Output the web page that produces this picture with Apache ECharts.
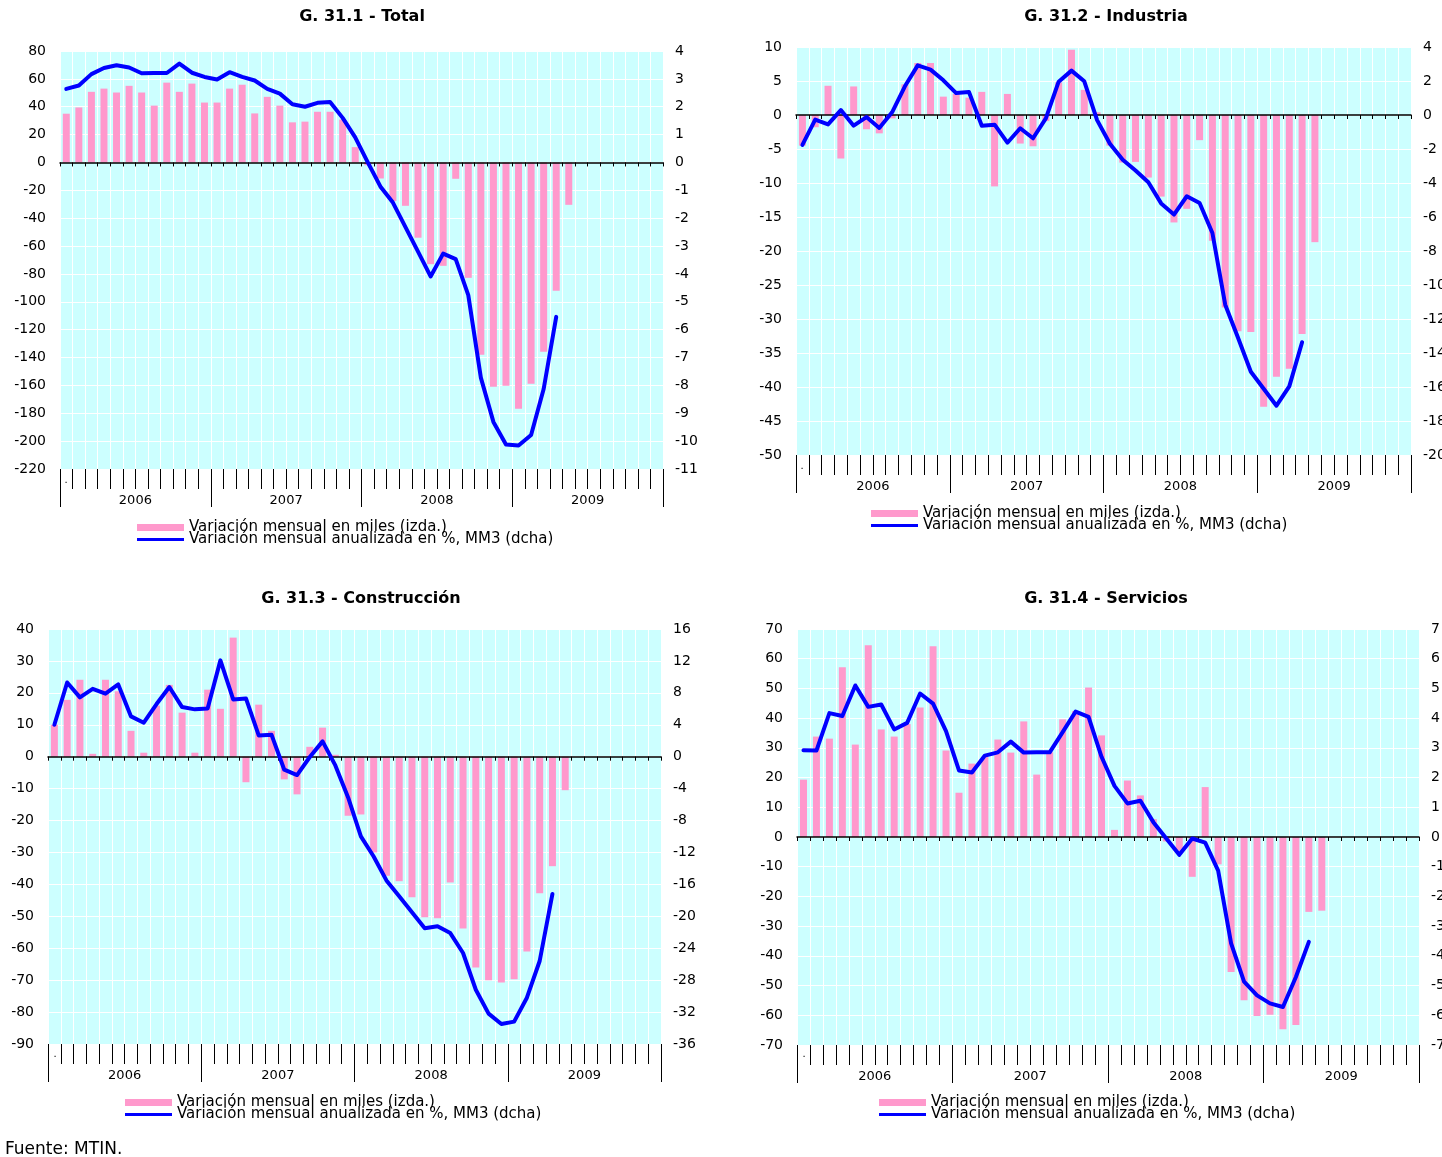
<!DOCTYPE html>
<html lang="es">
<head>
    <meta charset="utf-8">
    <script type="text/javascript" src="https://cdn.jsdelivr.net/npm/echarts@6/dist/echarts.min.js"></script>
</head>
<body style="margin: 0; background: #ffffff">
    <div id="container" style="width: 1442px; height: 1157px"></div>
    <script type="text/javascript">
        // eje temporal: ene-2006 .. dic-2009
        var years = ['2006', '2007', '2008', '2009'];
        var monthNames = ['ene', 'feb', 'mar', 'abr', 'may', 'jun', 'jul', 'ago', 'sep', 'oct', 'nov', 'dic'];
        var months = [];
        years.forEach(function (y) {
            monthNames.forEach(function (m) { months.push(m + '-' + y); });
        });

        var barName = 'Variación mensual en miles (izda.)';
        var lineName = 'Variación mensual anualizada en %, MM3 (dcha)';

        // G. 31.1 - Total
        var totalBars = [35, 39.5, 50.7, 53, 50.2, 55, 50.2, 40.8, 57.3, 50.7, 56.6, 43, 43, 53, 55.8, 35.2, 47.1, 40.8, 28.8, 29.3, 36.4, 36.4, 30.8, 11,
            -2, -11.5, -27.7, -31.1, -54, -73, -74.2, -11.7, -82.8, -138, -161, -160.3, -176.8, -158.8, -135.9, -92.1, -30.4];
        var totalLine = [2.64, 2.76, 3.17, 3.39, 3.49, 3.41, 3.2, 3.21, 3.21, 3.55, 3.22, 3.07, 2.98, 3.24, 3.07, 2.94, 2.64, 2.47, 2.09, 2.0, 2.14, 2.17, 1.6, 0.9,
            0.0, -0.86, -1.44, -2.32, -3.2, -4.09, -3.27, -3.47, -4.76, -7.72, -9.31, -10.12, -10.16, -9.78, -8.13, -5.54];

        // G. 31.2 - Industria
        var industriaBars = [-4.5, -1.8, 4.3, -6.4, 4.2, -2.1, -2.7, -0.5, 4.5, 7.65, 7.65, 2.7, 3.1, 2.55, 3.4, -10.5, 3.1, -4.2, -4.6, -0.9, 4.8, 9.6, 3.7, 0.4,
            -4.5, -7.0, -6.9, -9.2, -12.0, -15.8, -13.8, -3.7, -18.5, -28.3, -31.8, -31.9, -42.9, -38.5, -37.3, -32.2, -18.7];
        var industriaLine = [-1.76, -0.27, -0.55, 0.29, -0.63, -0.12, -0.76, 0.16, 1.69, 2.92, 2.67, 2.04, 1.29, 1.35, -0.63, -0.57, -1.63, -0.78, -1.37, -0.2, 1.96, 2.61, 1.98, -0.3,
            -1.69, -2.63, -3.27, -3.96, -5.2, -5.86, -4.78, -5.18, -6.94, -11.16, -13.1, -15.1, -16.1, -17.1, -15.96, -13.37];

        // G. 31.3 - Construcción
        var construccionBars = [10, 17.8, 24.1, 0.9, 24.1, 20.5, 8.1, 1.25, 16, 22.5, 13.8, 1.25, 21, 15, 37.3, -8, 16.3, 8.1, -7.1, -11.8, 3.1, 9.1, 0.6, -18.5,
            -18.1, -30, -37.3, -39, -44, -50.3, -50.6, -39.4, -53.8, -66, -70, -70.7, -69.7, -61, -42.8, -34.3, -10.5];
        var construccionLine = [4.0, 9.3, 7.43, 8.5, 7.9, 9.06, 5.05, 4.26, 6.6, 8.73, 6.22, 5.93, 6.05, 12.07, 7.18, 7.3, 2.67, 2.76, -1.63, -2.3, -0.04, 1.92, -1.09, -5.1,
            -9.98, -12.5, -15.5, -17.5, -19.5, -21.5, -21.25, -22.1, -24.6, -29.2, -32.2, -33.5, -33.2, -30.2, -25.6, -17.2];

        // G. 31.4 - Servicios
        var serviciosBars = [19.3, 33.8, 33.1, 57.1, 31.1, 64.5, 36.2, 33.8, 38, 43.6, 64.2, 29.1, 14.9, 24.7, 27, 32.8, 28.4, 38.9, 21, 28.5, 39.6, 42.4, 50.3, 34.2,
            2.4, 19, 14, 6, -1.5, -5.5, -13.4, 16.8, -9.2, -45.4, -54.9, -60.2, -59.8, -64.7, -63.3, -25.2, -24.8];
        var serviciosLine = [2.92, 2.91, 4.17, 4.07, 5.1, 4.38, 4.46, 3.62, 3.84, 4.83, 4.49, 3.56, 2.24, 2.17, 2.74, 2.85, 3.21, 2.84, 2.85, 2.85, 3.53, 4.22, 4.04, 2.7,
            1.72, 1.13, 1.22, 0.5, -0.05, -0.6, -0.05, -0.19, -1.13, -3.58, -4.87, -5.33, -5.6, -5.72, -4.71, -3.53];

        var FONT = 'DejaVu Sans';
        var panels = [
            { title: 'G. 31.1 - Total', cx: 362, ty: 17, grid: [60, 51, 603, 418], left: [-220, 80, 20], right: [-11, 4, 1], bars: totalBars, line: totalLine, legend: [137, 520], dot: [66, 485] },
            { title: 'G. 31.2 - Industria', cx: 1106, ty: 17, grid: [796, 47, 615, 408], left: [-50, 10, 5], right: [-20, 4, 2], bars: industriaBars, line: industriaLine, legend: [871, 506], dot: [802, 471] },
            { title: 'G. 31.3 - Construcción', cx: 361, ty: 599, grid: [48, 629, 613, 415], left: [-90, 40, 10], right: [-36, 16, 4], bars: construccionBars, line: construccionLine, legend: [125, 1095], dot: [55, 1059] },
            { title: 'G. 31.4 - Servicios', cx: 1106, ty: 599, grid: [797, 629, 622, 416], left: [-70, 70, 10], right: [-7, 7, 1], bars: serviciosBars, line: serviciosLine, legend: [879, 1095], dot: [804, 1059] }
        ];

        var grids = [], xAxes = [], yAxes = [], series = [], legends = [], graphics = [];
        panels.forEach(function (p, k) {
            grids.push({
                left: p.grid[0], top: p.grid[1], width: p.grid[2], height: p.grid[3],
                outerBoundsMode: 'none', containLabel: false,
                show: true, backgroundColor: '#CCFFFF', borderWidth: 0
            });
            // months (series axis, ticks + vertical grid)
            xAxes.push({
                type: 'category', gridIndex: k, data: months, position: 'bottom',
                axisLine: { show: false, onZero: false },
                axisTick: { show: true, interval: 0, length: 20, lineStyle: { color: '#000', width: 1 } },
                axisLabel: { show: false },
                splitLine: { show: true, interval: 0, lineStyle: { color: '#ffffff', width: 1 } }
            });
            // years
            xAxes.push({
                type: 'category', gridIndex: k, data: years, position: 'bottom',
                axisLine: { show: false, onZero: false },
                axisTick: { show: true, interval: 0, length: 38, lineStyle: { color: '#000', width: 1 } },
                axisLabel: { interval: 0, margin: 25, color: '#000', fontSize: 13, fontFamily: FONT },
                splitLine: { show: false }
            });
            // zero line
            xAxes.push({
                type: 'category', gridIndex: k, data: months, position: 'bottom', z: 3,
                axisLine: { show: true, onZero: true, onZeroAxisIndex: 2 * k, lineStyle: { color: '#000', width: 1.5 } },
                axisTick: { show: true, interval: 0, length: 4, lineStyle: { color: '#000', width: 1 } },
                axisLabel: { show: false },
                splitLine: { show: false }
            });
            yAxes.push({
                type: 'value', gridIndex: k, position: 'left',
                min: p.left[0], max: p.left[1], interval: p.left[2],
                axisLine: { show: false }, axisTick: { show: false },
                axisLabel: { margin: 14, color: '#000', fontSize: 14, fontFamily: FONT },
                splitLine: { show: true, lineStyle: { color: '#ffffff', width: 1 } }
            });
            yAxes.push({
                type: 'value', gridIndex: k, position: 'right',
                min: p.right[0], max: p.right[1], interval: p.right[2],
                axisLine: { show: false }, axisTick: { show: false },
                axisLabel: { margin: 12, color: '#000', fontSize: 14, fontFamily: FONT },
                splitLine: { show: false }
            });
            series.push({
                type: 'bar', name: barName, xAxisIndex: 3 * k, yAxisIndex: 2 * k,
                data: p.bars, barWidth: 7, z: 2,
                itemStyle: { color: '#FF99CC' }
            });
            series.push({
                type: 'line', name: lineName, xAxisIndex: 3 * k, yAxisIndex: 2 * k + 1,
                data: p.line, symbol: 'none', z: 4, color: '#0000FF',
                itemStyle: { color: '#0000FF' },
                lineStyle: { color: '#0000FF', width: 4, join: 'round', cap: 'round' }
            });
            legends.push({
                orient: 'vertical', left: p.legend[0], top: p.legend[1], padding: 0,
                itemWidth: 47, itemHeight: 7, itemGap: -3, selectedMode: false,
                itemStyle: { borderWidth: 0 },
                textStyle: { color: '#000', fontSize: 15, lineHeight: 12, fontFamily: FONT },
                data: [
                    { name: barName, icon: 'rect' },
                    { name: lineName, icon: 'path://M0,0H50V3H0Z' }
                ]
            });
            graphics.push({
                type: 'text', x: p.cx, y: p.ty,
                style: { text: p.title, align: 'center', verticalAlign: 'middle', fill: '#000', font: 'bold 16px "' + FONT + '"' }
            });
            graphics.push({
                type: 'text', x: p.dot[0], y: p.dot[1],
                style: { text: '.', align: 'center', verticalAlign: 'bottom', fill: '#000', font: '10px "' + FONT + '"' }
            });
        });
        graphics.push({
            type: 'text', x: 5, y: 1150,
            style: { text: 'Fuente: MTIN.', align: 'left', verticalAlign: 'middle', fill: '#000', font: '17px "' + FONT + '"' }
        });

        var dom = document.getElementById('container');
        var chart = echarts.init(dom, null, { renderer: 'canvas' });
        chart.setOption({
            animation: false,
            backgroundColor: '#ffffff',
            grid: grids,
            xAxis: xAxes,
            yAxis: yAxes,
            legend: legends,
            graphic: graphics,
            series: series
        });
    </script>
</body>
</html>
